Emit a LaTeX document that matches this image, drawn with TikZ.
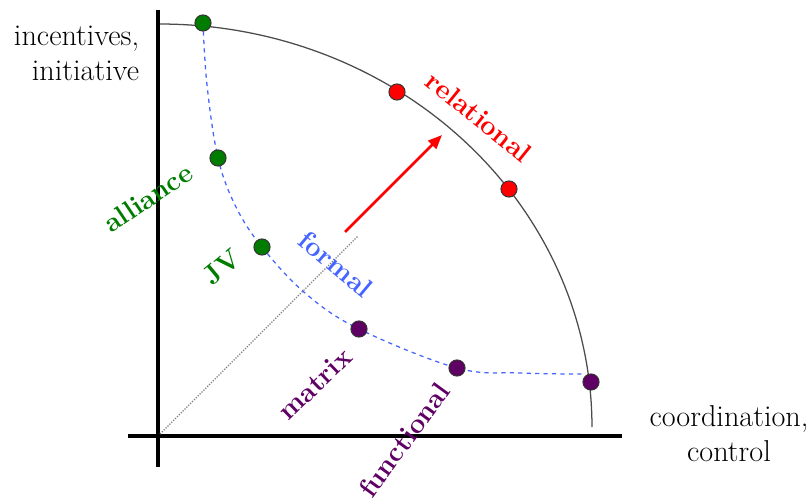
\documentclass[tikz,border=0pt]{standalone}
\usepackage{fontspec}
\usetikzlibrary{arrows.meta}
\definecolor{dkgreen}{RGB}{0,125,0}
\definecolor{dkpurple}{RGB}{95,0,100}
\definecolor{curveblue}{RGB}{70,100,255}
\tikzset{
  dot/.style={circle,draw=black!80,line width=0.7pt,inner sep=0pt,minimum size=11.5pt},
  lab/.style={font=\fontsize{19.5}{22}\selectfont\bfseries},
  axlab/.style={font=\fontsize{21.5}{25}\selectfont,align=#1},
}
\begin{document}
\begin{tikzpicture}[x=0.025cm,y=-0.025cm]
\useasboundingbox (0,0) rectangle (811,499);
% axes
\draw[line width=2.2pt] (158,10) -- (158,467);
\draw[line width=2.2pt] (128,436) -- (622,436);
\node[axlab=right,anchor=east] (yl) at (144,53) {incentives,\\initiative};
\node[axlab=center] (xl) at (729,434) {coordination,\\control};
% outer arc
\draw[black!70,line width=0.9pt,domain=0:90,samples=80] plot ({160+432*cos(\x)},{427-403*sin(\x)});
\draw[gray,densely dotted,line width=0.9pt] (160,434) -- (358,236);
% inner curve
\draw[curveblue,dashed,line width=0.9pt] plot[smooth,tension=0.6] coordinates
  {(203,23) (207,85) (218,158) (236,207) (262,247) (305,293) (359,329) (457,368) (520,373) (582,374)};
\draw[red,line width=2pt,-{Triangle[length=10pt,width=8pt]}] (345,232) -- (442,135);
% dots
\node[dot,fill=dkgreen] (g1) at (203,23) {};
\node[dot,fill=dkgreen] (g2) at (218,158) {};
\node[dot,fill=dkgreen] (g3) at (262,247) {};
\node[dot,fill=red] (r1) at (397,92) {};
\node[dot,fill=red] (r2) at (509,189) {};
\node[dot,fill=dkpurple] (p1) at (359,329) {};
\node[dot,fill=dkpurple] (p2) at (457,368) {};
\node[dot,fill=dkpurple] (p3) at (591,382) {};
% labels
\node[lab,red,rotate=-39] (rel) at (479,117) {relational};
\node[lab,dkgreen,rotate=34] (all) at (148,198) {alliance};
\node[lab,dkgreen,rotate=40] (jv) at (222,267) {JV};
\node[lab,curveblue,rotate=-40] (form) at (336,264) {formal};
\node[lab,dkpurple,rotate=44] (mat) at (315,384) {matrix};
\node[lab,dkpurple,rotate=54] (fun) at (404,440) {functional};
\end{tikzpicture}
\end{document}
